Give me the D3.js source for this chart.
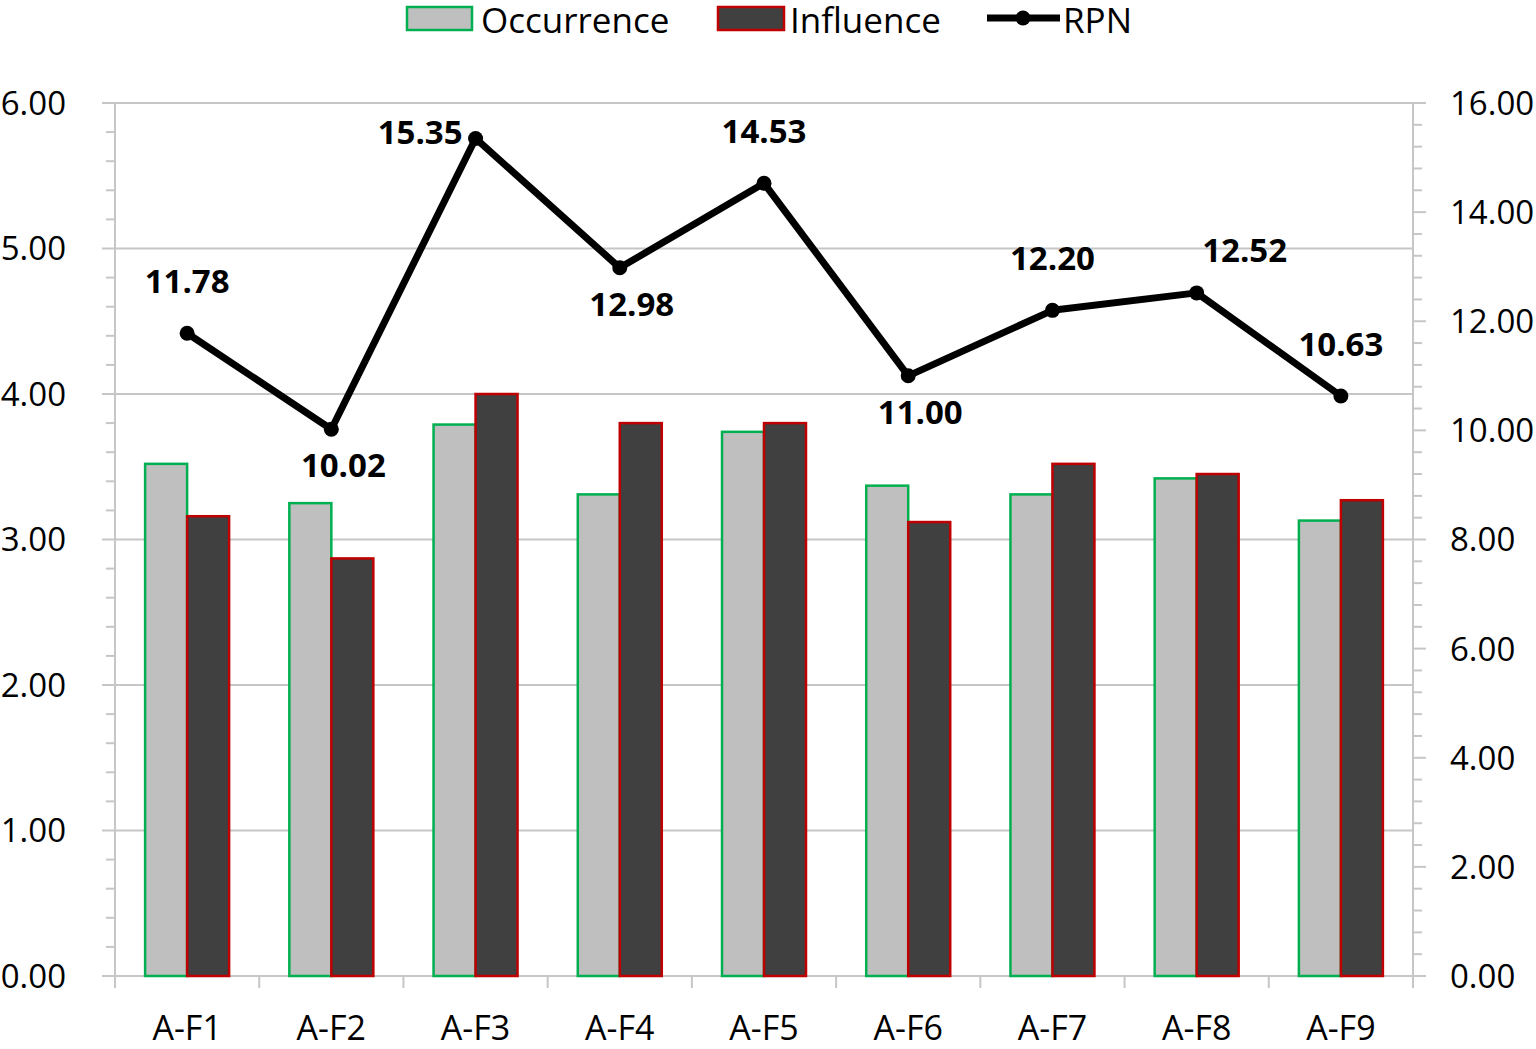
<!DOCTYPE html>
<html>
<head>
<meta charset="utf-8">
<script src="https://cdn.jsdelivr.net/npm/d3@7"></script>
<style>
  body { margin: 0; background: #fff; }
  svg { display: block; font-family: "Open Sans", "Noto Sans", sans-serif; }
</style>
</head>
<body>
<svg id="chart"></svg>
<script>
var w = 1536;
var h = 1049;

var categories = ['A-F1', 'A-F2', 'A-F3', 'A-F4', 'A-F5', 'A-F6', 'A-F7', 'A-F8', 'A-F9'];
var occurrence = [3.52, 3.25, 3.79, 3.31, 3.74, 3.37, 3.31, 3.42, 3.13];
var influence = [3.16, 2.87, 4.00, 3.80, 3.80, 3.12, 3.52, 3.45, 3.27];
var rpn = [11.78, 10.02, 15.35, 12.98, 14.53, 11.00, 12.20, 12.52, 10.63];
var leftTicks = [0, 1, 2, 3, 4, 5, 6];
var rightTicks = [0, 2, 4, 6, 8, 10, 12, 14, 16];
// where each RPN label sits relative to its point
var labelSide = ['above', 'below', 'left', 'below', 'above', 'below', 'above', 'aboveRight', 'above'];

var pLeft = 115, pRight = 1413, pTop = 103, pBottom = 976;

var svg = d3.select('#chart').attr('width', w).attr('height', h);

var x = d3.scaleBand().domain(categories).range([pLeft, pRight]).paddingInner(0).paddingOuter(0);
var xSub = d3.scaleBand().domain(['occ', 'inf']).range([0, x.bandwidth()]).paddingOuter(0.717).paddingInner(0);
var yL = d3.scaleLinear().domain([0, 6]).range([pBottom, pTop]);
var yR = d3.scaleLinear().domain([0, 16]).range([pBottom, pTop]);

var grey = '#c6c6c6';

// gridlines
svg.append('g')
  .selectAll('line')
  .data(leftTicks.filter(function (d) { return d > 0; }))
  .enter()
  .append('line')
  .attr('x1', pLeft).attr('x2', pRight)
  .attr('y1', function (d) { return yL(d); })
  .attr('y2', function (d) { return yL(d); })
  .style('stroke', grey).style('stroke-width', 2);

// left axis
var leftAxis = svg.append('g').attr('transform', 'translate(' + pLeft + ',0)');
leftAxis.append('line').attr('x1', 0).attr('x2', 0).attr('y1', pTop).attr('y2', pBottom + 12)
  .style('stroke', grey).style('stroke-width', 2);
leftAxis.selectAll('.minor')
  .data(d3.range(0, 6.001, 0.2))
  .enter()
  .append('line')
  .attr('x1', function (d) { return Math.abs(d - Math.round(d)) < 1e-6 ? -13 : -9; })
  .attr('x2', 0)
  .attr('y1', function (d) { return yL(d); })
  .attr('y2', function (d) { return yL(d); })
  .style('stroke', grey).style('stroke-width', 2);
leftAxis.selectAll('text')
  .data(leftTicks)
  .enter()
  .append('text')
  .attr('x', -49)
  .attr('y', function (d) { return yL(d); })
  .attr('dy', '0.36em')
  .attr('text-anchor', 'end')
  .style('font-size', '33px')
  .text(function (d) { return d3.format('.2f')(d); });

// right axis
var rightAxis = svg.append('g').attr('transform', 'translate(' + pRight + ',0)');
rightAxis.append('line').attr('x1', 0).attr('x2', 0).attr('y1', pTop).attr('y2', pBottom + 12)
  .style('stroke', grey).style('stroke-width', 2);
rightAxis.selectAll('.minor')
  .data(d3.range(0, 16.001, 0.4))
  .enter()
  .append('line')
  .attr('x1', 0)
  .attr('x2', function (d) { return Math.abs(d / 2 - Math.round(d / 2)) < 1e-6 ? 13 : 9; })
  .attr('y1', function (d) { return yR(d); })
  .attr('y2', function (d) { return yR(d); })
  .style('stroke', grey).style('stroke-width', 2);
rightAxis.selectAll('text')
  .data(rightTicks)
  .enter()
  .append('text')
  .attr('x', 37)
  .attr('y', function (d) { return yR(d); })
  .attr('dy', '0.36em')
  .attr('text-anchor', 'start')
  .style('font-size', '33px')
  .text(function (d) { return d3.format('.2f')(d); });

// bottom axis
var bottomAxis = svg.append('g');
bottomAxis.append('line').attr('x1', pLeft).attr('x2', pRight).attr('y1', pBottom).attr('y2', pBottom)
  .style('stroke', grey).style('stroke-width', 2);
bottomAxis.selectAll('.tick')
  .data(categories)
  .enter()
  .append('line')
  .attr('x1', function (d) { return x(d); })
  .attr('x2', function (d) { return x(d); })
  .attr('y1', pBottom).attr('y2', pBottom + 12)
  .style('stroke', grey).style('stroke-width', 2);
bottomAxis.selectAll('text')
  .data(categories)
  .enter()
  .append('text')
  .attr('x', function (d) { return x(d) + x.bandwidth() / 2; })
  .attr('y', 1040)
  .attr('text-anchor', 'middle')
  .style('font-size', '34px')
  .text(function (d) { return d; });

// bars
var groups = svg.selectAll('.cat')
  .data(categories)
  .enter()
  .append('g')
  .attr('transform', function (d) { return 'translate(' + x(d) + ',0)'; });

groups.append('rect')
  .attr('x', xSub('occ'))
  .attr('width', xSub.bandwidth())
  .attr('y', function (d, i) { return yL(occurrence[i]); })
  .attr('height', function (d, i) { return pBottom - yL(occurrence[i]); })
  .style('fill', '#bfbfbf').style('stroke', '#00b050').style('stroke-width', 2.5);

groups.append('rect')
  .attr('x', xSub('inf'))
  .attr('width', xSub.bandwidth())
  .attr('y', function (d, i) { return yL(influence[i]); })
  .attr('height', function (d, i) { return pBottom - yL(influence[i]); })
  .style('fill', '#404040').style('stroke', '#c00000').style('stroke-width', 2.5);

// RPN line
var cx = function (d, i) { return x(categories[i]) + x.bandwidth() / 2; };
var line = d3.line().x(cx).y(function (d) { return yR(d); });

svg.append('path')
  .datum(rpn)
  .attr('d', line)
  .style('fill', 'none').style('stroke', '#000').style('stroke-width', 7)
  .style('stroke-linejoin', 'round');

svg.selectAll('.dot')
  .data(rpn)
  .enter()
  .append('circle')
  .attr('cx', cx)
  .attr('cy', function (d) { return yR(d); })
  .attr('r', 7.5)
  .style('fill', '#000');

svg.selectAll('.lbl')
  .data(rpn)
  .enter()
  .append('text')
  .attr('x', function (d, i) {
    var s = labelSide[i];
    if (s === 'left') return cx(d, i) - 13;
    if (s === 'below') return cx(d, i) + 12;
    if (s === 'aboveRight') return cx(d, i) + 48;
    return cx(d, i);
  })
  .attr('y', function (d, i) {
    var s = labelSide[i];
    if (s === 'above') return yR(d) - 52;
    if (s === 'aboveRight') return yR(d) - 43;
    if (s === 'below') return yR(d) + 36;
    return yR(d) - 6;
  })
  .attr('dy', '0.36em')
  .attr('text-anchor', function (d, i) { return labelSide[i] === 'left' ? 'end' : 'middle'; })
  .style('font-size', '33px')
  .style('font-weight', 'bold')
  .text(function (d) { return d3.format('.2f')(d); });

// legend
var legend = svg.append('g');
legend.append('rect').attr('x', 407).attr('y', 7).attr('width', 65).attr('height', 23)
  .style('fill', '#bfbfbf').style('stroke', '#00b050').style('stroke-width', 2.5);
legend.append('text').attr('x', 481).attr('y', 20).attr('dy', '0.36em')
  .style('font-size', '35px').text('Occurrence');
legend.append('rect').attr('x', 718).attr('y', 7).attr('width', 66).attr('height', 23)
  .style('fill', '#404040').style('stroke', '#c00000').style('stroke-width', 2.5);
legend.append('text').attr('x', 790).attr('y', 20).attr('dy', '0.36em')
  .style('font-size', '35px').text('Influence');
legend.append('line').attr('x1', 987).attr('x2', 1060).attr('y1', 18).attr('y2', 18)
  .style('stroke', '#000').style('stroke-width', 7);
legend.append('circle').attr('cx', 1023).attr('cy', 18).attr('r', 7.5).style('fill', '#000');
legend.append('text').attr('x', 1063).attr('y', 20).attr('dy', '0.36em')
  .style('font-size', '35px').text('RPN');
</script>
</body>
</html>
